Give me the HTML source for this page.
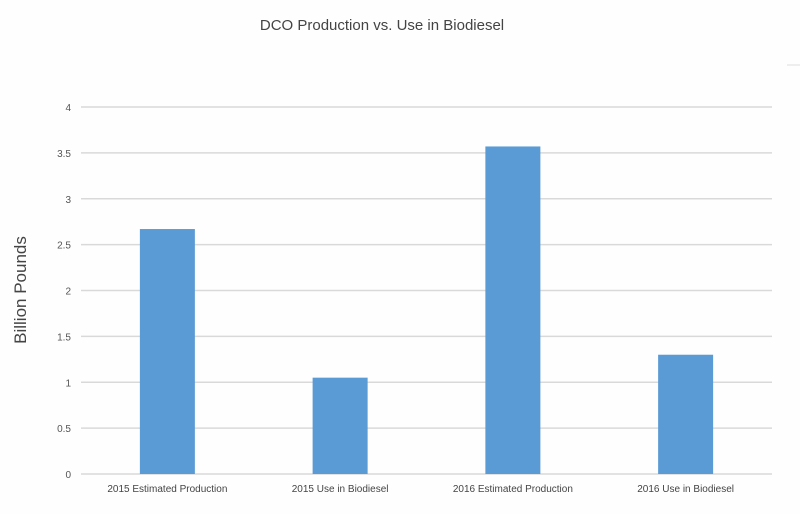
<!DOCTYPE html>
<html><head><meta charset="utf-8"><style>
body{margin:0;background:#fff;}
svg{display:block;font-family:"Liberation Sans",sans-serif;}
</style></head><body>
<svg id="chart" width="800" height="514">
<rect width="800" height="514" fill="#fefefe"/>
<text x="382" y="30" text-anchor="middle" font-size="15" fill="#444">DCO Production vs. Use in Biodiesel</text>
<line x1="787" y1="65" x2="800" y2="65" stroke="#ddd" stroke-width="1"/>
<text transform="translate(26,290) rotate(-90)" text-anchor="middle" font-size="17" fill="#444">Billion Pounds</text>
<g id="grid"></g><g id="bars"></g><g id="labels"></g>
</svg>
<script>
const categories=["2015 Estimated Production","2015 Use in Biodiesel","2016 Estimated Production","2016 Use in Biodiesel"];
const values=[2.67,1.05,3.57,1.30];
const ticks=[0,0.5,1,1.5,2,2.5,3,3.5,4];
const tickLabels=["0","0.5","1","1.5","2","2.5","3","3.5","4"];
const NS="http://www.w3.org/2000/svg";
const L=81,R=772,Y0=474,Y1=107,maxV=4;
const y=v=>Y0-(v/maxV)*(Y0-Y1);
const band=(R-L)/categories.length;
const xc=i=>L+band*(i+0.5);
function mk(t,a,p){const e=document.createElementNS(NS,t);for(const k in a)e.setAttribute(k,a[k]);p.appendChild(e);return e;}
const g=document.getElementById('grid');
ticks.forEach((t,i)=>{
 const ln=mk('line',{x1:L,x2:R,y1:y(t),y2:y(t),stroke:'#d9d9d9','stroke-width':1.5},g);
 
 
 const tx=mk('text',{x:71,y:y(t)+4,'text-anchor':'end','font-size':10,fill:'#555'},g);
 tx.textContent=tickLabels[i];
 
 
});
const b=document.getElementById('bars'),lb=document.getElementById('labels');
const bw=55;
values.forEach((v,i)=>{
 const r=mk('rect',{x:xc(i)-bw/2,y:y(v),width:bw,height:Y0-y(v),fill:'#5b9bd5'},b);
 
 
 const t=mk('text',{x:xc(i),y:492,'text-anchor':'middle','font-size':10,fill:'#444'},lb);
 t.textContent=categories[i];
 
 
});
</script>
</body></html>
